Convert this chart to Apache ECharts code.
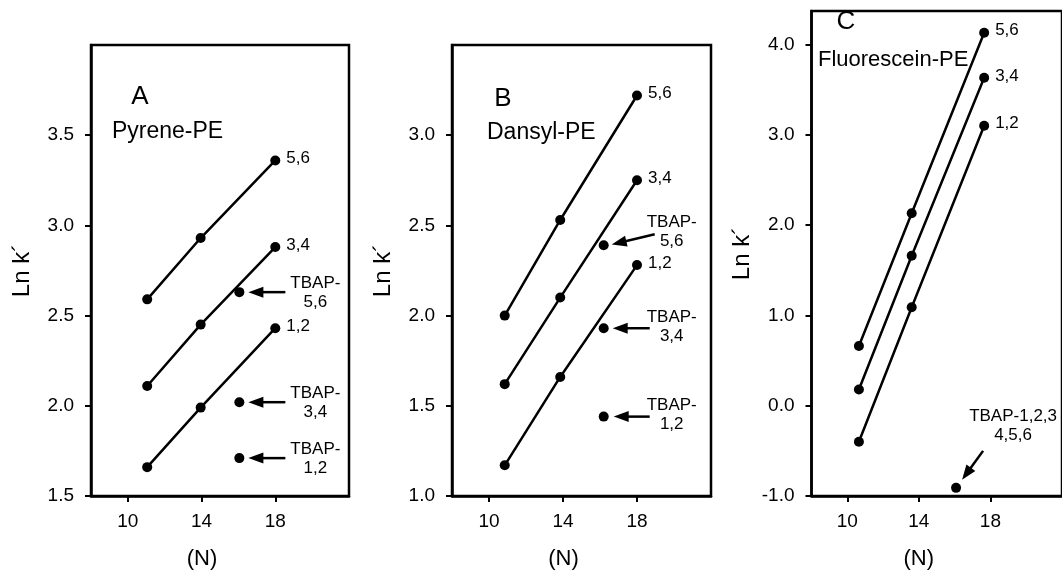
<!DOCTYPE html>
<html><head><meta charset="utf-8">
<script src="https://cdn.jsdelivr.net/npm/echarts@6/dist/echarts.min.js"></script>
<style>html,body{margin:0;padding:0;background:#fff}#c{width:1062px;height:575px}</style>
</head><body><div id="c"></div>
<script>
// ---- data ----
const xTicks = [10, 14, 18];
const yTicksA = [1.5, 2.0, 2.5, 3.0, 3.5];
const yTicksB = [1.0, 1.5, 2.0, 2.5, 3.0];
const yTicksC = [-1.0, 0.0, 1.0, 2.0, 3.0, 4.0];
const seriesNames = ['5,6', '3,4', '1,2'];

const xA = [11.05, 13.95, 18.0];
const A_56 = [2.59, 2.93, 3.36];
const A_34 = [2.11, 2.45, 2.88];
const A_12 = [1.66, 1.99, 2.43];
const xA_tbap = 16.05;
const A_tbap = [2.63, 2.02, 1.71];
const A_tbapLabels = ['TBAP-\n5,6', 'TBAP-\n3,4', 'TBAP-\n1,2'];

const xB = [10.85, 13.85, 18.0];
const B_56 = [2.00, 2.53, 3.22];
const B_34 = [1.62, 2.10, 2.75];
const B_12 = [1.17, 1.66, 2.28];
const xB_tbap = 16.2;
const B_tbap = [2.39, 1.93, 1.44];
const B_tbapLabels = ['TBAP-\n5,6', 'TBAP-\n3,4', 'TBAP-\n1,2'];

const xC = [10.65, 13.6, 17.65];
const C_56 = [0.66, 2.13, 4.13];
const C_34 = [0.18, 1.66, 3.63];
const C_12 = [-0.40, 1.09, 3.10];
const xC_tbap = 16.08;
const C_tbap = [-0.91];
const C_tbapLabels = ['TBAP-1,2,3\n4,5,6'];

const panelLetters = ['A', 'B', 'C'];
const panelNames = ['Pyrene-PE', 'Dansyl-PE', 'Fluorescein-PE'];

// ---- layout / style ----
const FONT = '"Liberation Sans", Arial, Helvetica, sans-serif';
const panels = [
  { grid: {left: 91, top: 45, width: 258, height: 458}, yMin: 1.5, yMax: 4.0, yTicks: yTicksA,
    x: xA, lines: [A_56, A_34, A_12], tx: xA_tbap, ty: A_tbap, tl: A_tbapLabels,
    labelOff: [[76, 0.5], [76, 0.5], [76, 0.5]],
    arrows: [[46, 0, 9, 0], [46, 0, 9, 0], [46, 0, 9, 0]],
    letterPos: [140, 97], namePos: [112, 132], nameSize: 23 },
  { grid: {left: 452, top: 45, width: 259, height: 458}, yMin: 1.0, yMax: 3.5, yTicks: yTicksB,
    x: xB, lines: [B_56, B_34, B_12], tx: xB_tbap, ty: B_tbap, tl: B_tbapLabels,
    labelOff: [[68, -13], [68, -1.5], [68, -1.5]],
    arrows: [[51, -11, 8, -0.7], [46, 0, 9, 0], [46, 0, 10, 0]],
    letterPos: [503, 99], namePos: [487, 133], nameSize: 23 },
  { grid: {left: 811.5, top: 11, width: 255.5, height: 492}, yMin: -1.0, yMax: 4.37, yTicks: yTicksC,
    x: xC, lines: [C_56, C_34, C_12], tx: xC_tbap, ty: C_tbap, tl: C_tbapLabels,
    labelOff: [[57, -62]],
    arrows: [[27, -37, 6, -8]],
    letterPos: [846, 22], namePos: [818, 60], nameSize: 22 }
];

const grids = [], xAxes = [], yAxes = [], series = [];
panels.forEach((p, i) => {
  grids.push(Object.assign({show: true, borderColor: '#000', borderWidth: 2.5, backgroundColor: 'transparent'}, p.grid));
  xAxes.push({
    gridIndex: i, type: 'value', min: 8, max: 22,
    axisLine: {show: true, onZero: false, lineStyle: {color: '#000', width: 2.5}},
    axisTick: {show: true, customValues: xTicks, length: 6, lineStyle: {color: '#000', width: 2}},
    axisLabel: {customValues: xTicks, margin: 16, color: '#000', fontSize: 19, fontFamily: FONT},
    splitLine: {show: false},
    name: '(N)', nameLocation: 'middle', nameGap: 52,
    nameTextStyle: {fontSize: 22, color: '#000', fontFamily: FONT, padding: [0, 36, 0, 0]}
  });
  yAxes.push({
    gridIndex: i, type: 'value', min: p.yMin, max: p.yMax,
    axisLine: {show: true, onZero: false, lineStyle: {color: '#000', width: 2.5}},
    axisTick: {show: true, customValues: p.yTicks, length: 6, lineStyle: {color: '#000', width: 2}},
    axisLabel: {customValues: p.yTicks, margin: 17, color: '#000', fontSize: 19, fontFamily: FONT,
      formatter: v => Number(v).toFixed(1)},
    splitLine: {show: false},
    name: 'Ln k\u00B4', nameLocation: 'middle', nameGap: 57, nameRotate: 90,
    nameTextStyle: {fontSize: 24, color: '#000', fontFamily: FONT}
  });
  p.lines.forEach((ys, k) => {
    const data = ys.map((y, j) => {
      const item = {value: [p.x[j], y]};
      if (j === ys.length - 1) {
        item.label = {show: true, position: 'right', distance: 6, offset: [0, -2],
          formatter: seriesNames[k], color: '#000', fontSize: 17, fontFamily: FONT};
      }
      return item;
    });
    series.push({
      type: 'line', xAxisIndex: i, yAxisIndex: i, data: data,
      symbol: 'circle', symbolSize: 10, showSymbol: true,
      lineStyle: {color: '#000', width: 2.5}, itemStyle: {color: '#000', opacity: 1},
      label: {show: false}, emphasis: {disabled: true}, animation: false, z: 3
    });
  });
  series.push({
    type: 'scatter', xAxisIndex: i, yAxisIndex: i,
    data: p.ty.map((y, j) => ({
      value: [p.tx, y],
      label: {show: true, position: 'inside', offset: p.labelOff[j], formatter: p.tl[j],
        align: 'center', verticalAlign: 'middle', lineHeight: 19, opacity: 1,
        color: '#000', fontSize: 17, fontFamily: FONT}
    })),
    symbol: 'circle', symbolSize: 10, itemStyle: {color: '#000', opacity: 1},
    emphasis: {disabled: true}, animation: false, z: 3
  });
});

const chart = echarts.init(document.getElementById('c'), null, {renderer: 'canvas'});
chart.setOption({
  backgroundColor: '#fff', animation: false,
  grid: grids, xAxis: xAxes, yAxis: yAxes, series: series
});

// annotations: panel letters, names and arrows
const graphics = [];
panels.forEach((p, i) => {
  graphics.push({type: 'text', x: p.letterPos[0], y: p.letterPos[1],
    style: {text: panelLetters[i], fontSize: 26, fontFamily: FONT, fill: '#000', align: 'center', verticalAlign: 'middle'}});
  graphics.push({type: 'text', x: p.namePos[0], y: p.namePos[1],
    style: {text: panelNames[i], fontSize: p.nameSize, fontFamily: FONT, fill: '#000', align: 'left', verticalAlign: 'middle'}});
  p.ty.forEach((y, j) => {
    const pt = chart.convertToPixel({gridIndex: i}, [p.tx, y]);
    const a = p.arrows[j];
    const S = [pt[0] + a[0], pt[1] + a[1]];
    const T = [pt[0] + a[2], pt[1] + a[3]];
    const dx = T[0] - S[0], dy = T[1] - S[1];
    const len = Math.hypot(dx, dy);
    const ux = dx / len, uy = dy / len;
    const hl = 15, hw = 5.5;
    const B = [T[0] - ux * hl, T[1] - uy * hl];
    const nx = -uy, ny = ux;
    graphics.push({type: 'line', shape: {x1: S[0], y1: S[1], x2: B[0] + ux * 2, y2: B[1] + uy * 2},
      style: {stroke: '#000', lineWidth: 2.5}});
    graphics.push({type: 'polygon', shape: {points: [T, [B[0] + nx * hw, B[1] + ny * hw], [B[0] - nx * hw, B[1] - ny * hw]]},
      style: {fill: '#000'}});
  });
});
chart.setOption({graphic: graphics});
</script>
</body></html>
